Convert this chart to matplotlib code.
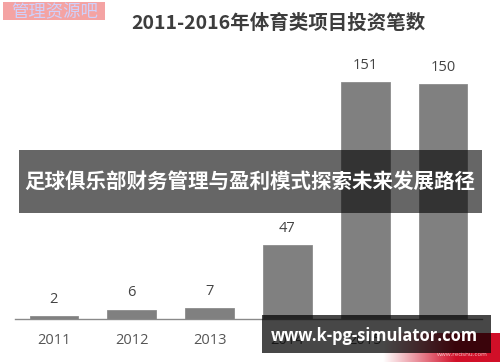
import numpy as np
import matplotlib.pyplot as plt
from matplotlib.patches import Rectangle

# data
years = ['2011', '2012', '2013', '2014', '2015', '2016']
counts = [2, 6, 7, 47, 151, 150]

title = '2011-2016年体育类项目投资笔数'
banner = '足球俱乐部财务管理与盈利模式探索未来发展路径'
site = 'www.k-pg-simulator.com'
stamp = '管理资源吧'

plt.rcParams['font.family'] = ['Open Sans', 'Noto Sans CJK SC', 'DejaVu Sans']

fig = plt.figure(figsize=(5, 3.62), dpi=100)
fig.patch.set_facecolor('white')

# main chart axes, placed to match the pixel layout
ax = fig.add_axes([0.03, 0.1188, 0.934, 0.7707])
x = np.arange(len(years))
ax.bar(x, counts, width=0.625, color='#808080', edgecolor='#8c8c8c', linewidth=0.6, zorder=2)
for xi, c in zip(x, counts):
    ax.annotate(str(c), (xi, c), xytext=(0, 12), textcoords='offset points',
                ha='center', va='center', fontsize=10.5, color='#444444')
ax.set_xlim(-0.5, 5.5)
ax.set_ylim(0, 178)
ax.set_xticks(x)
ax.set_xticklabels(years, fontsize=10.5, color='#555555')
ax.tick_params(axis='x', length=0, pad=10)
ax.set_yticks([])
for s in ['top', 'left', 'right']:
    ax.spines[s].set_visible(False)
ax.spines['bottom'].set_color('#8a8a8a')
ax.spines['bottom'].set_linewidth(1.0)

# chart title
fig.text(278 / 500, 1 - 23 / 362, title, ha='center', va='center', fontsize=14,
         fontweight='bold', color='#3d3d3d', family=['Noto Sans CJK SC', 'DejaVu Sans'])

# red logo in the bottom right corner
lax = fig.add_axes([383 / 500, 0, 117 / 500, 29 / 362])
grad = np.linspace(0, 1, 200)
grad = np.clip(grad * 1.6, 0, 1)
img = np.ones((10, 200, 3))
img[:, :, 1] = 1 - grad * (1 - 0.06)
img[:, :, 2] = 1 - grad * (1 - 0.16)
img[:, :, 0] = 1 - grad * (1 - 0.82)
lax.imshow(img, aspect='auto', extent=[0, 1, 0, 1])
lax.axis('off')
fig.text(462 / 500, 1 - 355 / 362, 'www.redshu.com', ha='center', va='center',
         fontsize=4.5, color='#f3c6c6')

# dark banner across the middle
fig.add_artist(Rectangle((19 / 500, 1 - 213 / 362), 463 / 500, 63 / 362,
                         transform=fig.transFigure, facecolor='black', alpha=0.6,
                         edgecolor='none', zorder=5))
fig.text(250 / 500, 1 - 181 / 362, banner, ha='center', va='center', fontsize=14.8,
         fontweight='bold', color='white', zorder=6,
         family=['Noto Sans CJK SC', 'DejaVu Sans'])

# site banner at the bottom
fig.add_artist(Rectangle((262 / 500, 1 - 353 / 362), 229 / 500, 38 / 362,
                         transform=fig.transFigure, facecolor='black', alpha=0.72,
                         edgecolor='none', zorder=5))
fig.text(374 / 500, 1 - 336 / 362, site, ha='center', va='center', fontsize=11.9,
         fontweight='bold', color='white', zorder=6, family=['Open Sans', 'DejaVu Sans'])

# pink stamp at top left
fig.add_artist(Rectangle((3 / 500, 1 - 20 / 362), 102 / 500, 18 / 362,
                         transform=fig.transFigure, facecolor='#f4a3a3',
                         edgecolor='none', zorder=5))
fig.text(55 / 500, 1 - 12 / 362, stamp, ha='center', va='center', fontsize=12.5,
         color='#cfd0fa', zorder=6, family=['Noto Sans CJK SC', 'DejaVu Sans'])

fig.savefig('out.png', dpi=100)
